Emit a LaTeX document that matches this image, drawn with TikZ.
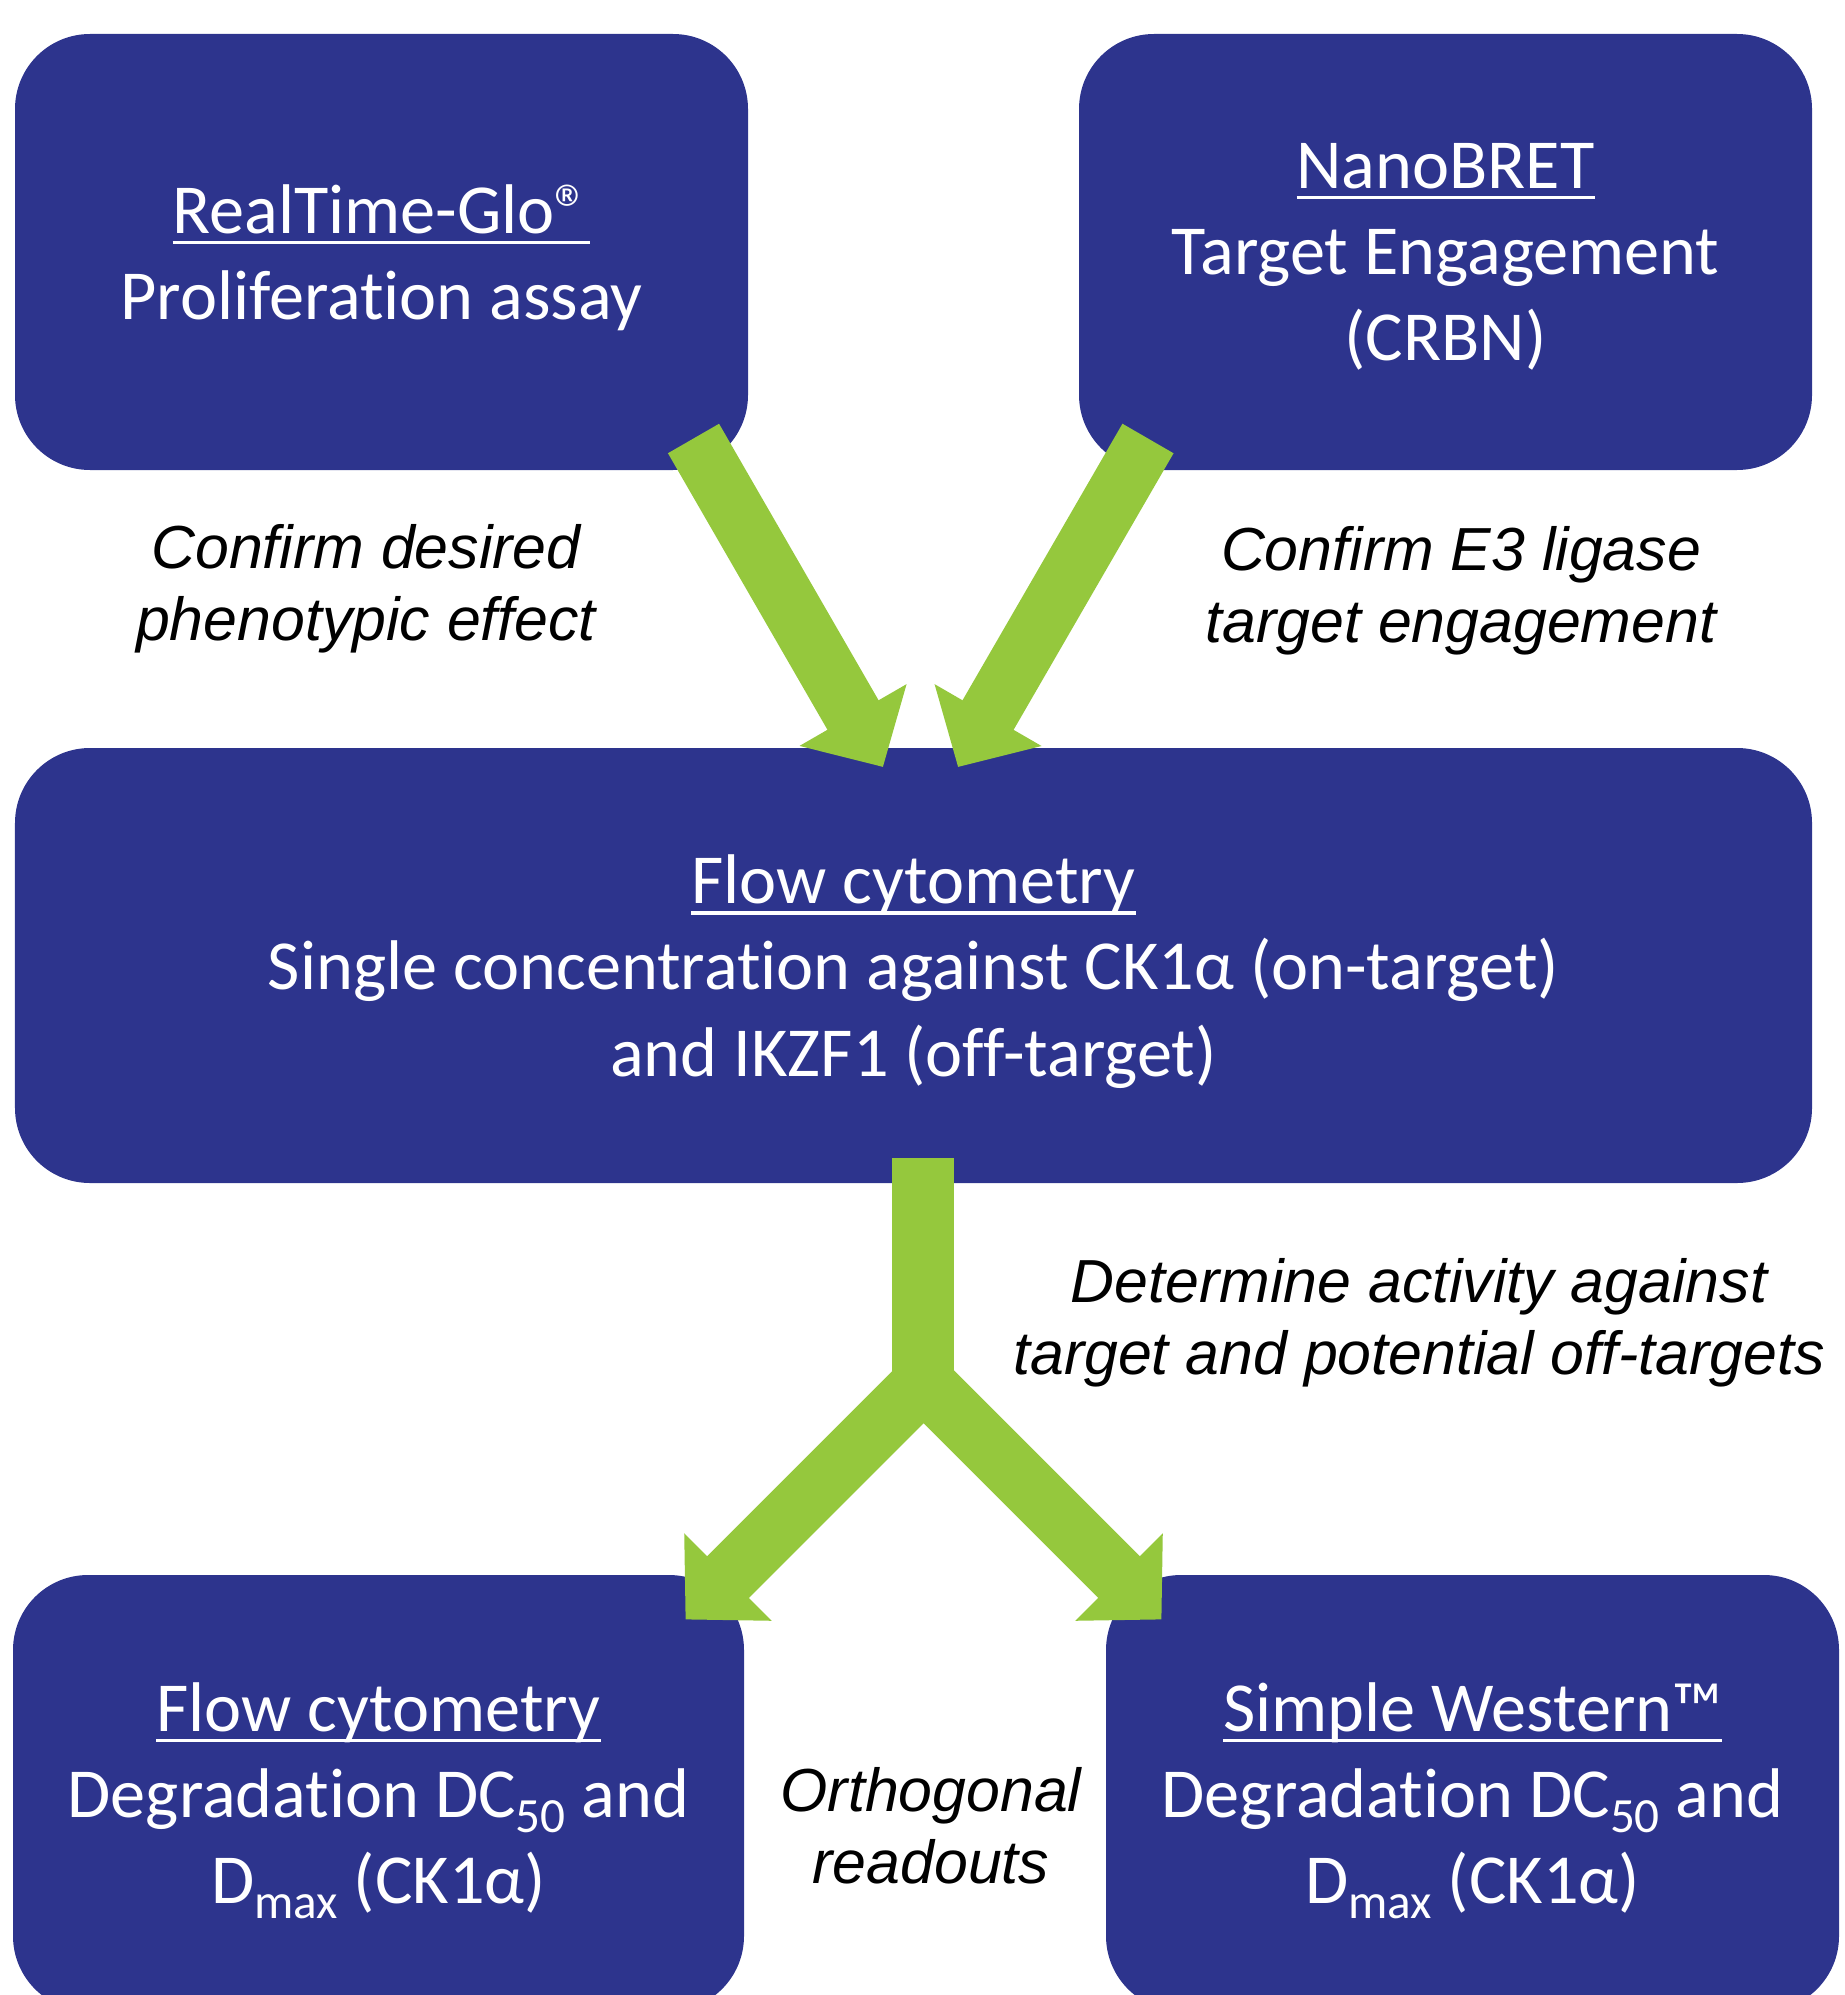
\documentclass[tikz,border=0pt]{standalone}
\usepackage{fontspec}
\setmainfont{Carlito}[Ligatures=NoCommon]
\newfontfamily\arialit{Liberation Sans}
\usetikzlibrary{arrows.meta}
\definecolor{deepnavy}{RGB}{45,52,141}
\definecolor{leafgreen}{RGB}{149,200,61}
\newcommand{\undr}[1]{\setbox0\hbox{#1}\rlap{\copy0}\rule[-0.155em]{\wd0}{0.05em}}
\newcommand{\lowsub}[1]{\raisebox{-4.3pt}{\fontsize{14}{14}\selectfont #1}}

\begin{document}
\begin{tikzpicture}[
    box/.style={rectangle,rounded corners=0.75cm,fill=deepnavy,text=white,align=center,
      minimum width=7.33cm,minimum height=4.36cm,inner sep=0pt,text depth=0pt,
      font=\fontsize{20}{24.5}\selectfont},
    note/.style={align=center,font=\arialit\itshape\fontsize{17.3}{20.6}\selectfont},
    fat/.style={draw=leafgreen,line width=0.59cm,line join=miter},
    head/.style={-{Triangle[width=1.2cm,length=0.6cm]}}
  ]
\clip (0,0) rectangle (18.45,-19.95);

\node[box] (rtg) at (3.815,-2.52) {\undr{RealTime-Glo®}\\Proliferation assay};
\node[box] (nano) at (14.455,-2.52) {\undr{NanoBRET}\\Target Engagement\\(CRBN)};
\node[box,minimum width=17.97cm,minimum height=4.35cm] (flow) at (9.135,-9.655) {\undr{Flow cytometry}\\Single concentration against CK1α (on-target)\\and IKZF1 (off-target)};
\node[box,minimum width=7.31cm] (fcdeg) at (3.785,-17.93) {\undr{Flow cytometry}\\Degradation DC\lowsub{50} and\\D\lowsub{max} (CK1α)};
\node[box] (sw) at (14.725,-17.93) {\undr{Simple Western™}\\Degradation DC\lowsub{50} and\\D\lowsub{max} (CK1α)};

\node[note] (pheno) at (3.66,-5.89) {Confirm desired\\phenotypic effect};
\node[note] (ligase) at (14.61,-5.91) {Confirm E3 ligase\\target engagement};
\node[note] (activity) at (14.19,-13.225) {Determine activity against\\target and potential off-targets};
\node[note] (ortho) at (9.31,-18.26) {Orthogonal\\readouts};

% arrows into the flow box
\coordinate (rtgout) at (6.935,-4.385);
\coordinate (flowinl) at (8.83,-7.67);
\coordinate (nanoout) at (11.48,-4.385);
\coordinate (flowinr) at (9.58,-7.67);
\draw[fat,head] (rtgout) -- (flowinl);
\draw[fat,head] (nanoout) -- (flowinr);

% fork to the readouts
\coordinate (flowout) at (9.23,-11.58);
\coordinate (stemend) at (9.23,-14.03);
\coordinate (fork) at (9.235,-13.815);
\coordinate (fcin) at (6.855,-16.195);
\coordinate (swin) at (11.615,-16.195);
\draw[draw=leafgreen,line width=0.62cm] (flowout) -- (stemend);
\draw[fat,{Triangle[width=1.2cm,length=0.6cm]}-{Triangle[width=1.2cm,length=0.6cm]}] (fcin) -- (fork) -- (swin);
\end{tikzpicture}
\end{document}
